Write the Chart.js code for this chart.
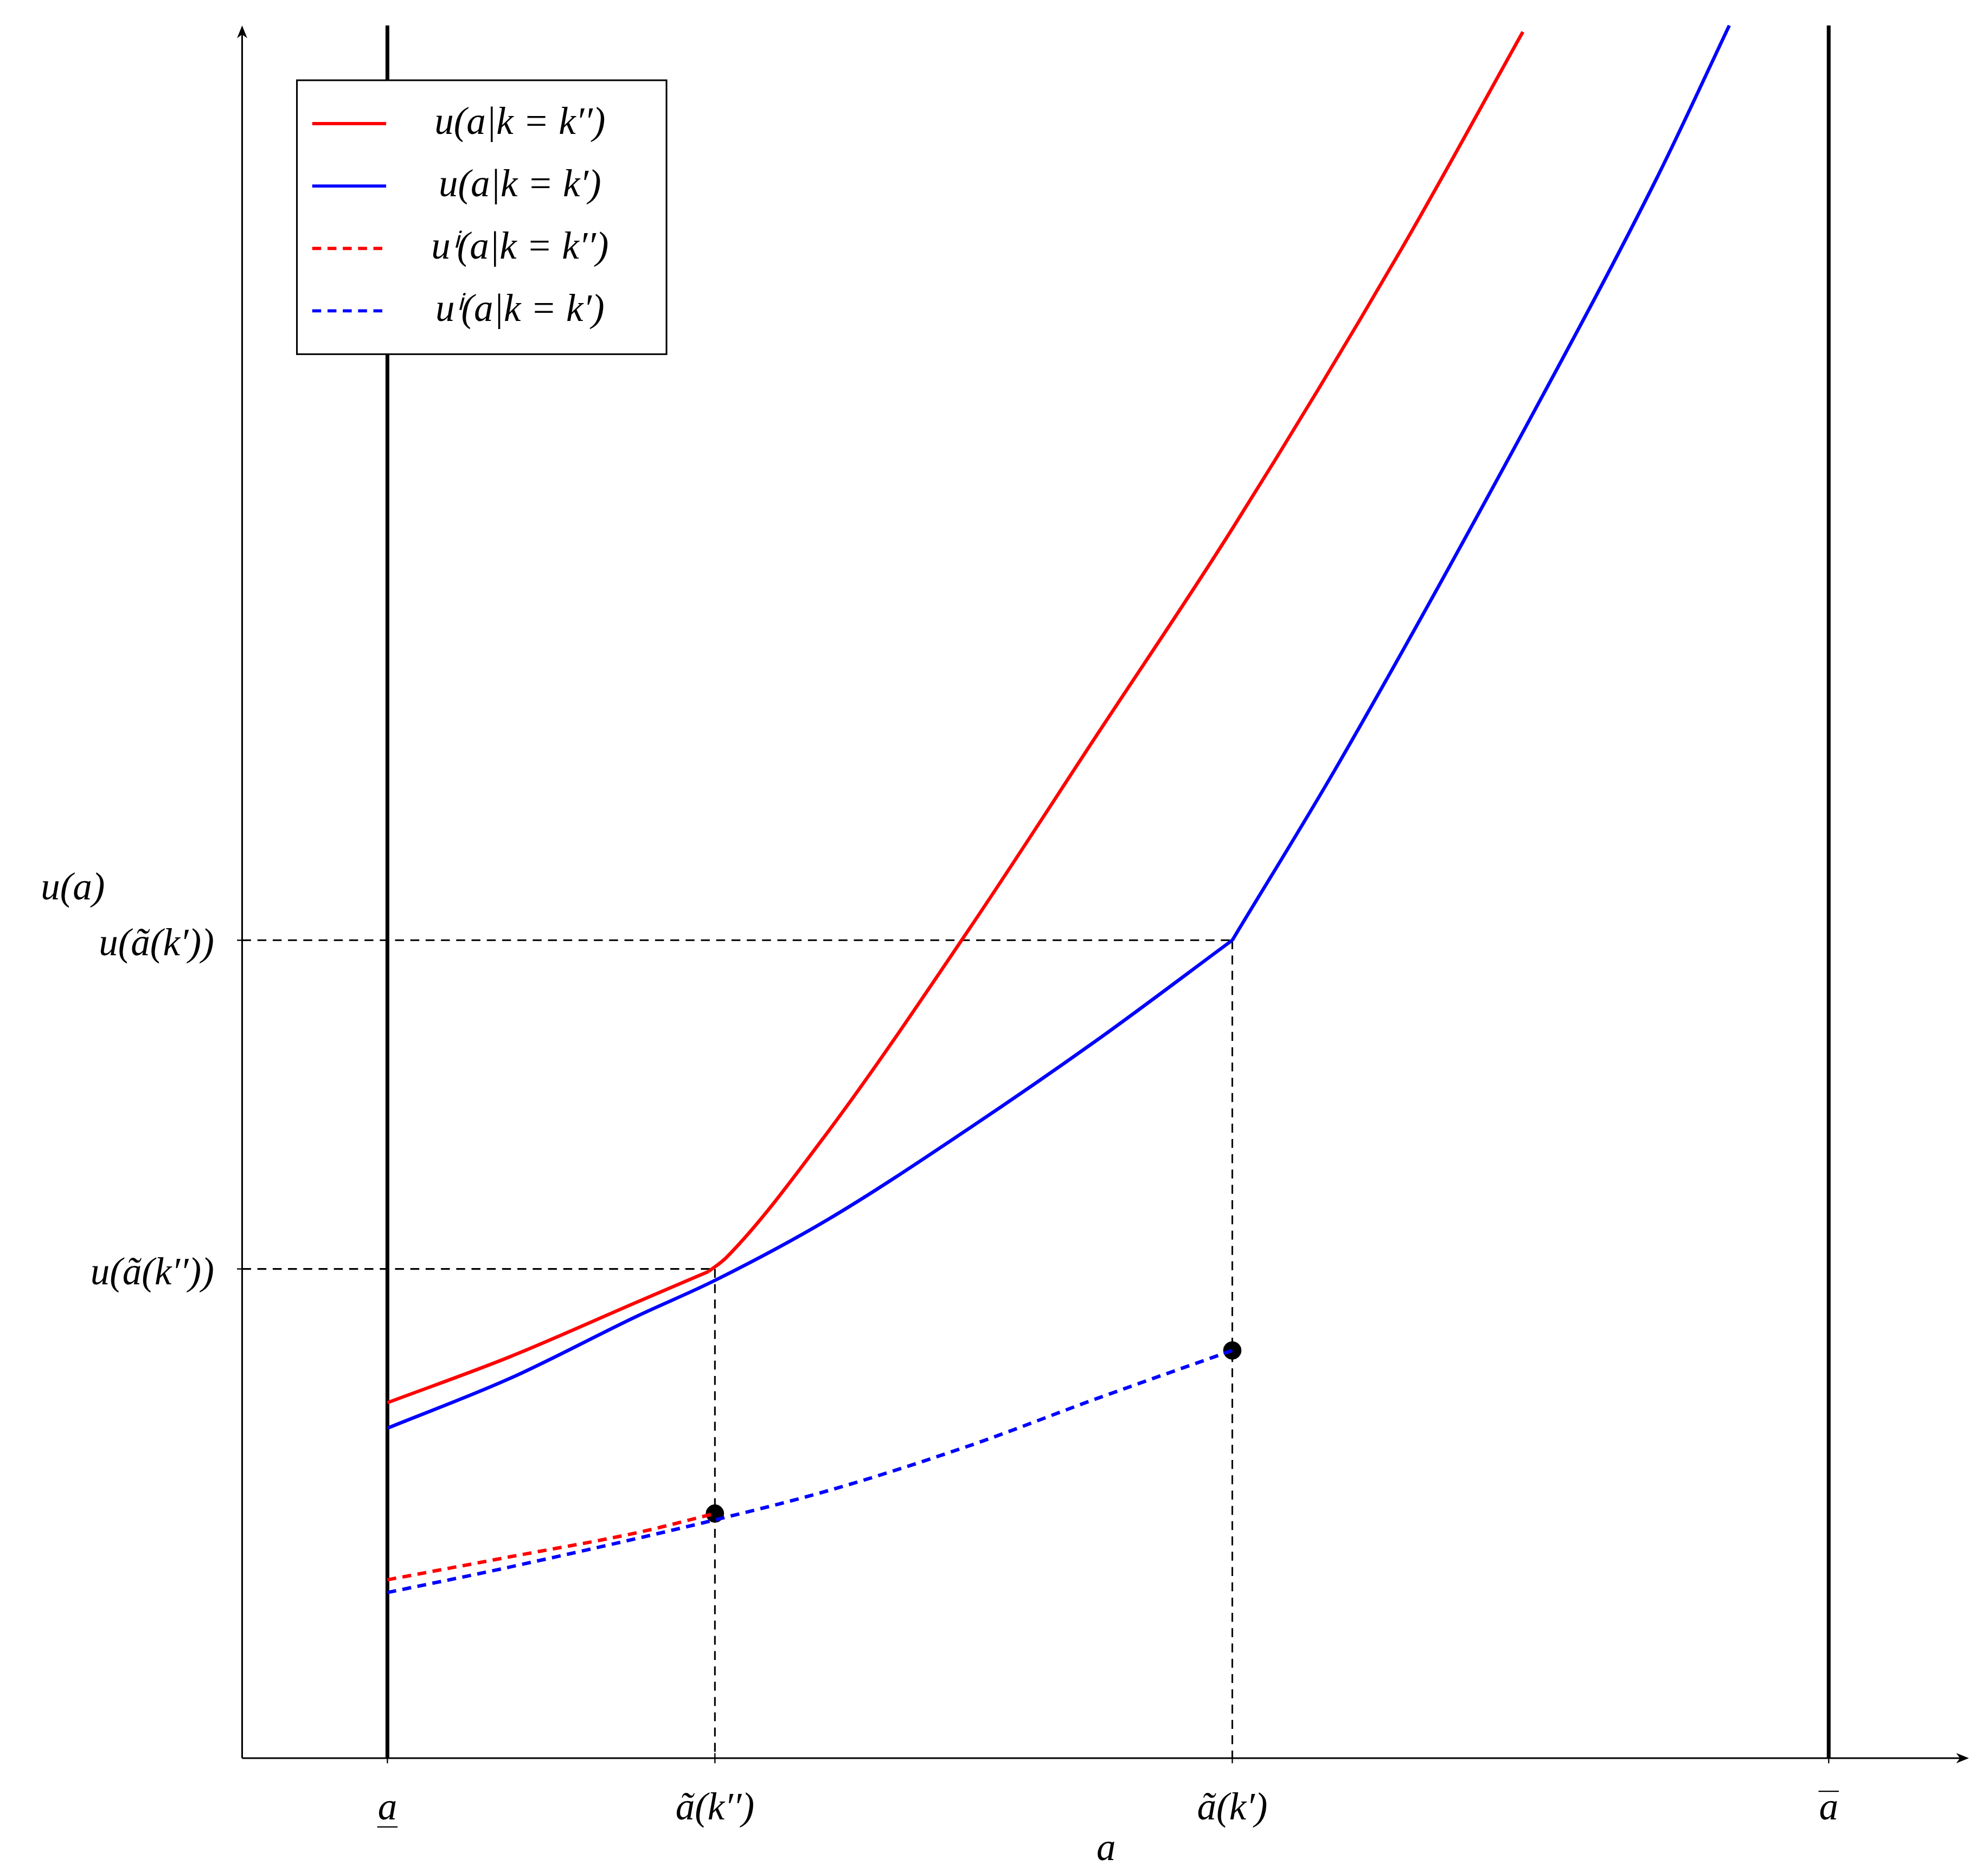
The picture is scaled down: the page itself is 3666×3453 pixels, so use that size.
<!DOCTYPE html>
<html><head><meta charset="utf-8">
<script src="https://cdn.jsdelivr.net/npm/chart.js@4/dist/chart.umd.min.js"></script>
<style>html,body{margin:0;padding:0;background:#fff}#w{width:3666px;height:3453px}</style>
</head><body><div id="w"><canvas id="c"></canvas></div>
<script>
// coordinates in reference units (x: horizontal position, y: height above axis)
const xTickValues = [304, 561, 967, 1435];
const xTickLabels = ["a", "ã(k′′)", "ã(k′)", "a"];
const yTickValues = [642, 384];
const yTickLabels = ["u(ã(k′))", "u(ã(k′′))"];
const redSolidA = [[304,279],[400,315],[500,358],[556,382]];
const redSolidB = [[556,382],[570,393],[650,492],[760,650],[860,802],[967,965],[1100,1185],[1195,1355]];
const blueSolidA = [[304,259],[400,298],[500,347],[561,375],[650,423],[760,494],[860,563],[967,642]];
const blueSolidB = [[967,642],[1050,780],[1200,1050],[1300,1240],[1357,1360]];
const redDashed = [[304,140],[400,158],[500,177],[561,192]];
const blueDashed = [[304,130],[400,150],[561,187],[650,210],[760,245],[860,282],[967,320]];
const markers = [[561,192],[967,320]];
const legendLabels = ["u(a|k = k′′)", "u(a|k = k′)", "uⁱ(a|k = k′′)", "uⁱ(a|k = k′)"];
const S = 3666/1560;
const pts = a => a.map(p => ({x:p[0], y:p[1]}));
const F = "italic "+Math.round(30*S)+"px 'Liberation Serif'";
const D = [7*S,5*S];

const deco = {
  id:'deco',
  beforeDatasetsDraw(ch){
    const c=ch.ctx, x=ch.scales.x, y=ch.scales.y;
    const X=v=>x.getPixelForValue(v), Y=v=>y.getPixelForValue(v);
    c.save();
    c.strokeStyle='#000';
    c.lineWidth=1.3*S; c.setLineDash(D);
    const seg=(a,b,d,e)=>{c.beginPath();c.moveTo(a,b);c.lineTo(d,e);c.stroke();};
    seg(X(190),Y(642),X(967),Y(642));
    seg(X(190),Y(384),X(561),Y(384));
    seg(X(561),Y(384),X(561),Y(0));
    seg(X(967),Y(642),X(967),Y(0));
    c.setLineDash([]);
    c.lineWidth=1.3*S;
    seg(X(190),Y(0),X(1540),Y(0));
    seg(X(190),Y(0),X(190),Y(1356));
    c.fillStyle='#000';
    c.beginPath();c.moveTo(X(1545),Y(0));c.lineTo(X(1535),Y(0)-4*S);c.lineTo(X(1538),Y(0));c.lineTo(X(1535),Y(0)+4*S);c.fill();
    c.beginPath();c.moveTo(X(190),Y(1360));c.lineTo(X(190)-4*S,Y(1350));c.lineTo(X(190),Y(1353));c.lineTo(X(190)+4*S,Y(1350));c.fill();
    c.lineWidth=3*S;
    seg(X(304),Y(0),X(304),Y(1360));
    seg(X(1435),Y(0),X(1435),Y(1360));
    c.lineWidth=1*S;
    xTickValues.forEach(v=>seg(X(v),Y(0)+4*S,X(v),Y(0)-4*S));
    yTickValues.forEach(v=>seg(X(190)-4*S,Y(v),X(190)+4*S,Y(v)));
    c.font=F; c.textBaseline='middle';
    c.textAlign='center';
    xTickValues.forEach((v,i)=>{
      const ty=Y(0)+40*S;
      c.fillText(xTickLabels[i],X(v),ty);
      if(i===0){seg(X(v)-8*S,ty+14*S,X(v)+8*S,ty+14*S);}
      if(i===3){seg(X(v)-8*S,ty-14*S,X(v)+8*S,ty-14*S);}
    });
    c.fillText("a",X(868),Y(0)+72*S);
    c.textAlign='right';
    yTickValues.forEach((v,i)=>c.fillText(yTickLabels[i],X(190)-22*S,Y(v)+4*S));
    c.textAlign='left';
    c.fillText("u(a)",X(32),Y(682));
    c.restore();
  },
  afterDatasetsDraw(ch){
    const c=ch.ctx;
    c.save();
    const L=233*S,T=63*S,W=290*S,H=215*S;
    c.fillStyle='#fff';c.fillRect(L,T,W,H);
    c.strokeStyle='#000';c.lineWidth=1.3*S;c.strokeRect(L,T,W,H);
    const cols=['#ff0000','#0000ff','#ff0000','#0000ff'];
    c.font=F;c.textBaseline='middle';c.textAlign='center';
    legendLabels.forEach((t,i)=>{
      const yy=T+(34+49*i)*S;
      c.strokeStyle=cols[i];c.lineWidth=2.5*S;
      c.setLineDash(i>1?D:[]);
      c.beginPath();c.moveTo(L+12*S,yy);c.lineTo(L+70*S,yy);c.stroke();
      c.fillStyle='#000';c.fillText(t,L+175*S,yy);
    });
    c.restore();
  }
};
const line=(d,col,dash)=>({data:pts(d),showLine:true,borderColor:col,borderWidth:2.7*S,borderDash:dash||[],pointRadius:0,cubicInterpolationMode:'monotone'});
new Chart(document.getElementById('c'),{
  type:'scatter',
  data:{datasets:[
    line(redSolidA,'#ff0000'),line(redSolidB,'#ff0000'),
    line(blueSolidA,'#0000ff'),line(blueSolidB,'#0000ff'),
    line(redDashed,'#ff0000',D),line(blueDashed,'#0000ff',D),
    {data:pts(markers),showLine:false,backgroundColor:'#000',borderColor:'#000',pointRadius:7*S}
  ]},
  options:{
    responsive:true,maintainAspectRatio:false,animation:false,
    layout:{padding:{left:190*S,right:3666-1545*S,top:20*S,bottom:3453-1380*S}},
    plugins:{legend:{display:false},tooltip:{enabled:false}},
    scales:{
      x:{type:'linear',min:190,max:1545,display:false},
      y:{type:'linear',min:0,max:1360,display:false}
    },
    clip:false
  },
  plugins:[deco]
});
</script></body></html>
